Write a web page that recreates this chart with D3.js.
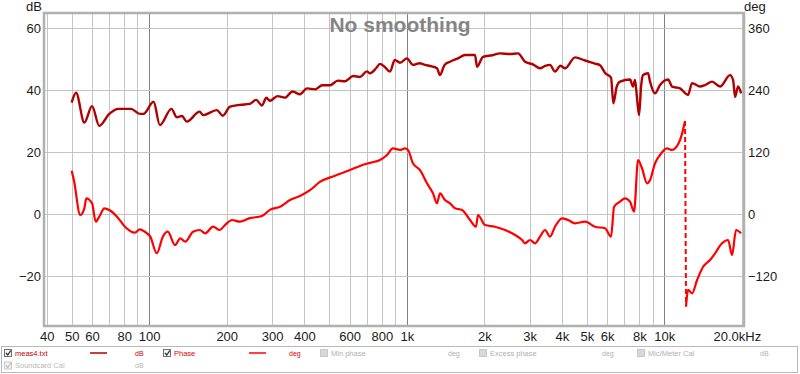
<!DOCTYPE html>
<html>
<head>
<meta charset="utf-8">
<script src="https://cdnjs.cloudflare.com/ajax/libs/d3/7.8.5/d3.min.js"></script>
<style>
  body { margin: 0; background: #fff; }
  svg { display: block; font-family: Arial, "Liberation Sans", sans-serif; }
</style>
</head>
<body>
<svg id="chart" width="800" height="374"></svg>
<script>
var magFreq = [50, 52, 56, 60, 64, 70, 76, 85, 92, 95, 104, 110, 122, 128, 134, 140, 157, 162, 183, 193, 206, 225,
  246, 260, 274, 285, 294, 315, 337, 360, 385, 410, 440, 470, 503, 540, 575, 620, 658, 700, 720, 760, 787,
  820, 861, 898, 941, 1002, 1057, 1120, 1177, 1250, 1310, 1346, 1400, 1472, 1580, 1683,
  1840, 1874, 1976, 2150, 2301, 2517, 2703, 2877, 3100, 3291, 3450, 3598, 3763, 3950, 4116, 4500, 4920, 5382, 5628,
  5886, 6209, 6339, 6534, 6730, 7358, 7557, 7694, 7834, 7977, 8121, 8267, 8645, 8800, 9200, 9620, 10340, 10710,
  11510, 12360, 12810, 13760, 14390, 15320, 16460, 17990, 18490, 18820, 19330, 19860];
var magDb = [35.9, 39.1, 29.5, 34.8, 28.4, 32.3, 33.9, 33.9, 32.3, 32.3, 36.2, 28.7, 33.9, 31.2, 31.6, 29.8, 33, 31.9,
  33.5, 31.7, 34.6, 35.2, 35.5, 36.8, 35, 37.5, 36.5, 38, 37.5, 39.5, 38.6, 40.5, 40.2, 41.5, 41.5, 43, 42.8,
  44.5, 44.2, 46, 45.4, 47, 48.4, 47.5, 45.9, 49.7, 48.8, 50.2, 48.1, 48.6, 48.1, 47.6, 47, 44.8, 48, 49.1,
  50.2, 51.3, 51.3, 47.5, 50.7, 51.2, 51.8, 51.6, 51.8, 49.1, 48.2, 47, 47.8, 48.1, 45.9, 47.8, 47, 50.5, 49.5,
  48.5, 48, 45.5, 44, 35.7, 41.1, 42.7, 43.4, 41.1, 43.2, 37.3, 31.9, 41.1, 44.8, 45.4, 42.7, 38.9, 41.6, 43.4,
  41.1, 40.5, 38.4, 42.2, 41.1, 41.6, 42.7, 41.1, 44.8, 43.2, 37.8, 41.1, 38.9];

var phaseFreq = [50, 51, 54, 56, 57, 60, 62, 64, 67, 70, 75, 80.5, 88, 92, 96, 101, 107, 113, 118, 126, 132, 138,
  148, 157, 165, 177, 188, 197, 210, 225, 246, 274, 294, 322, 352, 385, 421, 460, 526, 602, 658, 720, 787,
  838, 884, 941, 984, 1011, 1057, 1126, 1198, 1264, 1310, 1346, 1407, 1472, 1539, 1639, 1760, 1857, 1890,
  2012, 2200, 2407, 2632, 2802, 2877, 3010, 3147, 3291, 3442, 3598, 3763, 4007, 4227, 4500, 4920, 5382,
  5886, 6209, 6381, 6730, 7037, 7358, 7626, 7907, 8190, 8566, 8800, 9200, 9620, 10240, 10710, 11510,
  12030, 12140, 12360, 12810, 13400, 14140, 15050, 15740, 16750, 17680, 18320, 18980, 19860];
var phaseDeg = [83.8, 65.8, -1.9, 11, 30.4, 20.7, -14.9, -5.2, 11, 7.7, -5.2, -24.6, -36.2, -29.7, -34.3, -43.9,
  -76, -43.9, -34.3, -60, -47, -53.6, -34.3, -31, -37.4, -24.6, -31, -21.3, -11.6, -14.9, -8, -4, 8, 14, 27,
  35, 46, 62, 74, 85, 93, 99, 104.5, 114.2, 127, 124, 127, 124, 98, 85, 59.4, 40, 20.7, 40, 27, 20.7, 11,
  7.7, -11.6, -24.6, -1.9, -21.3, -24.6, -31, -40.6, -50.3, -56.7, -50.3, -56.7, -43.9, -31, -43.9, -24.6,
  -8.4, -11.6, -18, -14.9, -24.6, -27.7, -43.9, 14.1, 23.8, 30.4, 23.8, 4.5, 104.5, 88.5, 59.4, 65.8, 98,
  114.2, 127, 124, 143.2, 180, -179, -147, -153.5, -127.7, -102, -89, -76, -56.7, -50.3, -79.4, -31, -37.4];

var gridFreq = [40, 50, 60, 70, 80, 90, 100, 200, 300, 400, 500, 600, 700, 800, 900, 1000,
  2000, 3000, 4000, 5000, 6000, 7000, 8000, 9000, 10000, 20000];
var xTicks = [40, 50, 60, 80, 100, 200, 300, 400, 600, 800, 1000, 2000, 3000, 4000, 5000, 6000, 8000, 10000, 20000];
var xTickLabels = ['40', '50', '60', '80', '100', '200', '300', '400', '600', '800', '1k', '2k', '3k', '4k',
  '5k', '6k', '8k', '10k', '20.0kHz'];
var dbTicks = [-20, 0, 20, 40, 60];
var degTicks = [-120, 0, 120, 240, 360];

var legendRow1 = [
  { box: 'on', name: 'meas4.txt', unit: 'dB', color: '#c00000', line: '#b00000' },
  { box: 'on', name: 'Phase', unit: 'deg', color: '#e00000', line: '#ff0000' },
  { box: 'off', name: 'Min phase', unit: 'deg', color: '#b0b0b0' },
  { box: 'off', name: 'Excess phase', unit: 'deg', color: '#b0b0b0' },
  { box: 'off', name: 'Mic/Meter Cal', unit: 'dB', color: '#b0b0b0' }
];
var legendRow2 = [
  { box: 'dim', name: 'Soundcard Cal', unit: 'dB', color: '#b8b8b8' }
];

var svg = d3.select('#chart');
var pLeft = 45, pRight = 743, pTop = 14, pBottom = 325;

var x = d3.scaleLog().domain([39.4, 20200]).range([pLeft, pRight]);
var yDb = d3.scaleLinear().domain([-35.8, 64.5]).range([pBottom, pTop]);
var yDeg = d3.scaleLinear().domain([-214.8, 387]).range([pBottom, pTop]);

// grid
var grid = svg.append('g');
grid.selectAll('line.v').data(gridFreq).enter().append('line')
  .attr('x1', function(d) { return Math.round(x(d)) + 0.5; })
  .attr('x2', function(d) { return Math.round(x(d)) + 0.5; })
  .attr('y1', pTop).attr('y2', pBottom)
  .attr('stroke', function(d) { return (d === 100 || d === 1000 || d === 10000) ? '#808080' : '#c4c4c4'; })
  .attr('stroke-width', 1);
grid.selectAll('line.h').data(dbTicks).enter().append('line')
  .attr('x1', pLeft).attr('x2', pRight)
  .attr('y1', function(d) { return Math.round(yDb(d)) + 0.5; })
  .attr('y2', function(d) { return Math.round(yDb(d)) + 0.5; })
  .attr('stroke', '#c4c4c4');

// title
svg.append('text')
  .attr('x', 400).attr('y', 32)
  .attr('text-anchor', 'middle')
  .attr('font-size', 21).attr('font-weight', 'bold')
  .attr('fill', '#858585')
  .text('No smoothing');

svg.append('clipPath').attr('id', 'plotclip').append('rect')
  .attr('x', pLeft).attr('y', pTop).attr('width', pRight - pLeft).attr('height', pBottom - pTop);

var plot = svg.append('g').attr('clip-path', 'url(#plotclip)');

var magLine = d3.line()
  .x(function(d, i) { return x(magFreq[i]); })
  .y(function(d) { return yDb(d); })
  .curve(d3.curveMonotoneX);
plot.append('path').datum(magDb)
  .attr('d', magLine)
  .attr('fill', 'none').attr('stroke', '#b00000')
  .attr('stroke-width', 2.4).attr('stroke-linejoin', 'round');

// phase, split where it wraps
var pts = phaseDeg.map(function(d, i) { return [phaseFreq[i], d]; });
var pieces = [[pts[0]]], wraps = [];
for (var i = 1; i < pts.length; i++) {
  if (Math.abs(pts[i][1] - pts[i - 1][1]) > 180) {
    wraps.push([pts[i - 1], pts[i]]);
    pieces.push([]);
  }
  pieces[pieces.length - 1].push(pts[i]);
}
var phaseLine = d3.line()
  .x(function(d) { return x(d[0]); })
  .y(function(d) { return yDeg(d[1]); })
  .curve(d3.curveMonotoneX);
pieces.forEach(function(p) {
  plot.append('path').datum(p)
    .attr('d', phaseLine)
    .attr('fill', 'none').attr('stroke', '#ff0000')
    .attr('stroke-width', 2.2).attr('stroke-linejoin', 'round');
});
wraps.forEach(function(w) {
  plot.append('path').datum(w)
    .attr('d', phaseLine)
    .attr('fill', 'none').attr('stroke', '#ff0000')
    .attr('stroke-width', 2).attr('stroke-dasharray', '5,3');
});

// frame
svg.append('rect')
  .attr('x', pLeft - 1).attr('y', pTop - 1)
  .attr('width', pRight - pLeft + 2).attr('height', pBottom - pTop + 2)
  .attr('fill', 'none').attr('stroke', '#b0b0b0').attr('stroke-width', 2.5);

// axes
var xAxis = d3.axisBottom(x).tickValues(xTicks)
  .tickFormat(function(d, i) { return xTickLabels[i]; }).tickSize(0).tickPadding(0);
var gx = svg.append('g').attr('transform', 'translate(0,' + 332 + ')').call(xAxis);
gx.select('.domain').remove();
gx.selectAll('text').attr('font-size', 13).attr('fill', '#1a1a1a')
  .attr('font-family', 'Arial, "Liberation Sans", sans-serif')
  .attr('dx', function(d, i) { return i === xTicks.length - 1 ? -5 : 0; });

var yAxisL = d3.axisLeft(yDb).tickValues(dbTicks).tickSize(0).tickPadding(0);
var gl = svg.append('g').attr('transform', 'translate(' + 41 + ',0)').call(yAxisL);
gl.select('.domain').remove();
gl.selectAll('text').attr('font-size', 13).attr('fill', '#1a1a1a')
  .attr('font-family', 'Arial, "Liberation Sans", sans-serif');

var yAxisR = d3.axisRight(yDeg).tickValues(degTicks).tickSize(0).tickPadding(0);
var gr = svg.append('g').attr('transform', 'translate(' + 748 + ',0)').call(yAxisR);
gr.select('.domain').remove();
gr.selectAll('text').attr('font-size', 13).attr('fill', '#1a1a1a')
  .attr('font-family', 'Arial, "Liberation Sans", sans-serif');

svg.append('text').attr('x', 42).attr('y', 11).attr('text-anchor', 'end')
  .attr('font-size', 13).attr('fill', '#1a1a1a').text('dB');
svg.append('text').attr('x', 744).attr('y', 11)
  .attr('font-size', 13).attr('fill', '#1a1a1a').text('deg');

// legend
var legend = svg.append('g');
legend.append('rect').attr('x', 1.5).attr('y', 346.5).attr('width', 796).attr('height', 26)
  .attr('fill', '#fff').attr('stroke', '#b8b8b8');

function checkbox(g, cx, cy, state) {
  g.append('rect').attr('x', cx + 0.5).attr('y', cy - 3.5).attr('width', 7).attr('height', 7)
    .attr('fill', state === 'off' ? '#d8d8d8' : '#f4f4f4')
    .attr('stroke', state === 'on' ? '#707070' : '#c8c8c8');
  if (state !== 'off') {
    g.append('path')
      .attr('d', 'M' + (cx + 2) + ',' + cy + ' l1.8,2 l3,-4.5')
      .attr('fill', 'none').attr('stroke', state === 'on' ? '#303030' : '#c0c0c0').attr('stroke-width', 1.3);
  }
}

var col1 = [4, 163, 320, 479, 637];
var unitX = [135, 289, 448, 602, 760];
legendRow1.forEach(function(d, i) {
  var g = legend.append('g');
  checkbox(g, col1[i], 353, d.box);
  g.append('text').attr('x', col1[i] + 11).attr('y', 355.5)
    .attr('font-size', 7.5).attr('fill', d.color).text(d.name);
  if (d.line) {
    g.append('line').attr('x1', col1[i] + 86).attr('x2', col1[i] + 103)
      .attr('y1', 353).attr('y2', 353).attr('stroke', d.line).attr('stroke-width', 1.5);
  }
  g.append('text').attr('x', unitX[i]).attr('y', 355.5)
    .attr('font-size', 7).attr('fill', d.color).text(d.unit);
});
legendRow2.forEach(function(d, i) {
  var g = legend.append('g');
  checkbox(g, col1[i], 365.5, d.box);
  g.append('text').attr('x', col1[i] + 11).attr('y', 368)
    .attr('font-size', 7.5).attr('fill', d.color).text(d.name);
  g.append('text').attr('x', unitX[i]).attr('y', 368)
    .attr('font-size', 7).attr('fill', d.color).text(d.unit);
});
</script>
</body>
</html>
